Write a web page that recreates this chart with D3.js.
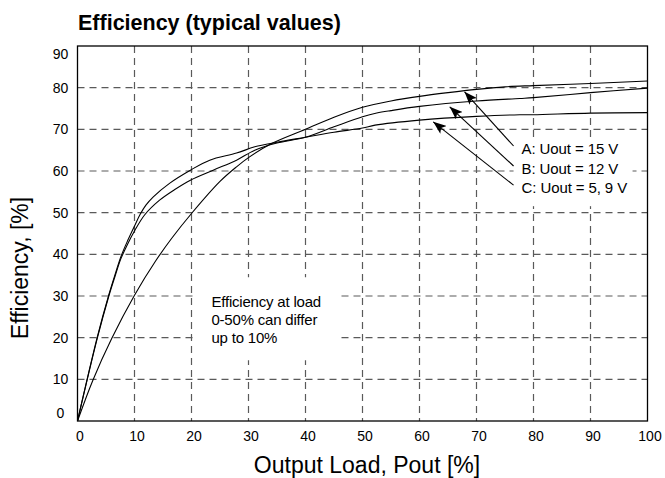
<!DOCTYPE html>
<html><head><meta charset="utf-8">
<script src="https://cdn.jsdelivr.net/npm/d3@7"></script>
<style>
body{margin:0;background:#fff}
text{font-family:Arial,"Liberation Sans",Helvetica,sans-serif;fill:#000}
</style>
</head><body>
<svg id="c" width="665" height="478"></svg>
<script>
// ---- data ----
const loadA = [0, 2.7, 6, 10, 13.7, 16.5, 20, 25, 27.9, 30, 33.8, 40, 45, 50, 55, 60, 65, 70, 75, 80, 90, 100];
const effA  = [0, 9.8, 19.8, 30.2, 38.4, 43.8, 49.8, 57.5, 61.0, 63.2, 66.4, 70.0, 72.9, 75.3, 76.8, 77.9, 78.8, 79.6, 80.2, 80.5, 81.0, 81.6];

const loadB = [0, 3.5, 5.5, 6.6, 7.6, 8.8, 10, 11.8, 14.4, 17, 19.8, 23.8, 27.9, 31.1, 35, 40, 45, 50, 52.5, 55, 60, 70, 77.6, 80, 90, 100];
const effB  = [0, 20, 30, 34.8, 38.9, 42.5, 45.6, 49.5, 53, 55.5, 57.8, 60.2, 62.6, 65.0, 66.7, 68.1, 70.6, 73.0, 73.9, 74.5, 75.5, 76.8, 77.4, 77.6, 78.8, 79.9];

const loadC = [0, 3.5, 5.5, 6.6, 7.6, 8.8, 10, 11, 12, 13.3, 16.2, 19.8, 23.2, 27.9, 31.1, 35, 40, 45, 50, 52.2, 60, 70, 77.6, 80, 90, 100];
const effC  = [0, 20.3, 30.3, 35.2, 39.4, 43.3, 46.8, 49.6, 51.8, 53.8, 57.1, 60.2, 62.6, 64.3, 65.8, 66.9, 68.1, 69.3, 70.3, 71.0, 72.2, 73.1, 73.5, 73.5, 73.9, 74.0];

const xTicks = [0, 10, 20, 30, 40, 50, 60, 70, 80, 90, 100];
const yTicks = [0, 10, 20, 30, 40, 50, 60, 70, 80, 90];

const seriesLabels = ["A: Uout = 15 V", "B: Uout = 12 V", "C: Uout = 5, 9 V"];
// arrow tips on the curves and arrow tails (data units)
const arrowTipLoad = [67.9, 65.3, 62.4];
const arrowTipEff  = [79.0, 75.4, 71.8];
const arrowTailLoad = [76.5, 76.5, 76.5];
const arrowTailEff  = [66.0, 61.2, 56.6];

const noteLines = ["Efficiency at load", "0-50% can differ", "up to 10%"];
const noteLoad = 23.5, noteEff = 27.3;

const titleText = "Efficiency (typical values)";
const xTitle = "Output Load, Pout [%]";
const yTitle = "Efficiency, [%]";

// ---- chart ----
const svg = d3.select("#c");
const W = 665, H = 478;
svg.append("rect").attr("width", W).attr("height", H).attr("fill", "#fff");

const x = d3.scaleLinear().domain([0, 100]).range([77.5, 647.5]);
const y = d3.scaleLinear().domain([0, 90]).range([421, 46]);

// grid
const grid = svg.append("g").attr("stroke", "#5a5a5a").attr("stroke-width", 1.2)
  .attr("stroke-dasharray", "7,5");
grid.selectAll("line.h").data(yTicks.filter(v => v > 0 && v < 90)).join("line")
  .attr("x1", x(0)).attr("x2", x(100)).attr("y1", d => y(d)).attr("y2", d => y(d));
grid.selectAll("line.v").data(xTicks.filter(v => v > 0 && v < 100)).join("line")
  .attr("y1", y(90)).attr("y2", y(0)).attr("x1", d => x(d)).attr("x2", d => x(d));

// white boxes behind annotations
const tailPx = arrowTailLoad.map((d, i) => [x(d), y(arrowTailEff[i])]);
svg.append("rect").attr("fill", "#fff")
  .attr("x", tailPx[0][0]).attr("y", tailPx[0][1] - 9)
  .attr("width", 119).attr("height", tailPx[2][1] + 21 - (tailPx[0][1] - 9));
const nx = x(noteLoad), ny = y(noteEff);
svg.append("rect").attr("fill", "#fff")
  .attr("x", nx - 18).attr("y", ny - 30).attr("width", 145).attr("height", 83);

// curves
const line = d3.line().x(d => x(d[0])).y(d => y(d[1])).curve(d3.curveCatmullRom.alpha(0.5));
const series = [
  d3.zip(loadA, effA),
  d3.zip(loadB, effB),
  d3.zip(loadC, effC)
];
svg.append("g").selectAll("path").data(series).join("path")
  .attr("d", line).attr("fill", "none").attr("stroke", "#000").attr("stroke-width", 1.1);

// arrows
const defs = svg.append("defs");
defs.append("marker").attr("id", "ah").attr("markerUnits", "userSpaceOnUse")
  .attr("markerWidth", 14).attr("markerHeight", 10).attr("refX", 13).attr("refY", 5)
  .attr("orient", "auto")
  .append("path").attr("d", "M0,0 L13,5 L0,10 L3,5 Z").attr("fill", "#000");
svg.append("g").selectAll("line").data(arrowTipLoad).join("line")
  .attr("x1", (d, i) => tailPx[i][0]).attr("y1", (d, i) => tailPx[i][1])
  .attr("x2", d => x(d)).attr("y2", (d, i) => y(arrowTipEff[i]))
  .attr("stroke", "#000").attr("stroke-width", 1.1).attr("marker-end", "url(#ah)");

svg.append("g").selectAll("text").data(seriesLabels).join("text")
  .attr("x", (d, i) => tailPx[i][0] + 8)
  .attr("y", (d, i) => tailPx[i][1] + 8)
  .attr("font-size", 15).attr("letter-spacing", -0.1).text(d => d);

svg.append("g").selectAll("text").data(noteLines).join("text")
  .attr("x", nx).attr("y", (d, i) => ny + i * 18)
  .attr("font-size", 15).attr("letter-spacing", -0.2).text(d => d);

// frame
svg.append("rect").attr("x", x(0)).attr("y", y(90))
  .attr("width", x(100) - x(0)).attr("height", y(0) - y(90))
  .attr("fill", "none").attr("stroke", "#000").attr("stroke-width", 1.3);

// axes
const ax = svg.append("g").attr("transform", `translate(0,${y(0)})`)
  .call(d3.axisBottom(x).tickValues(xTicks).tickSize(0).tickFormat(d3.format("d")));
ax.select(".domain").remove();
ax.selectAll("text").attr("y", 20).attr("dy", null).attr("dx", 2)
  .attr("font-size", 14).attr("font-family", null);

const ay = svg.append("g").attr("transform", `translate(${x(0)},0)`)
  .call(d3.axisLeft(y).tickValues(yTicks).tickSize(0).tickFormat(d3.format("d")));
ay.select(".domain").remove();
ay.selectAll(".tick").attr("transform", d => `translate(0,${Math.max(54, Math.min(413, y(d)))})`);
ay.selectAll("text").attr("x", -17).attr("text-anchor", "middle").attr("dy", "0.36em")
  .attr("font-size", 14).attr("font-family", null);

// titles
svg.append("text").attr("x", 78).attr("y", 30).attr("font-size", 21.5)
  .attr("font-weight", "bold").text(titleText);
svg.append("text").attr("x", 367).attr("y", 473).attr("text-anchor", "middle")
  .attr("font-size", 23).text(xTitle);
svg.append("text").attr("transform", "translate(28,268) rotate(-90)")
  .attr("text-anchor", "middle").attr("font-size", 23).text(yTitle);
</script>
</body></html>
